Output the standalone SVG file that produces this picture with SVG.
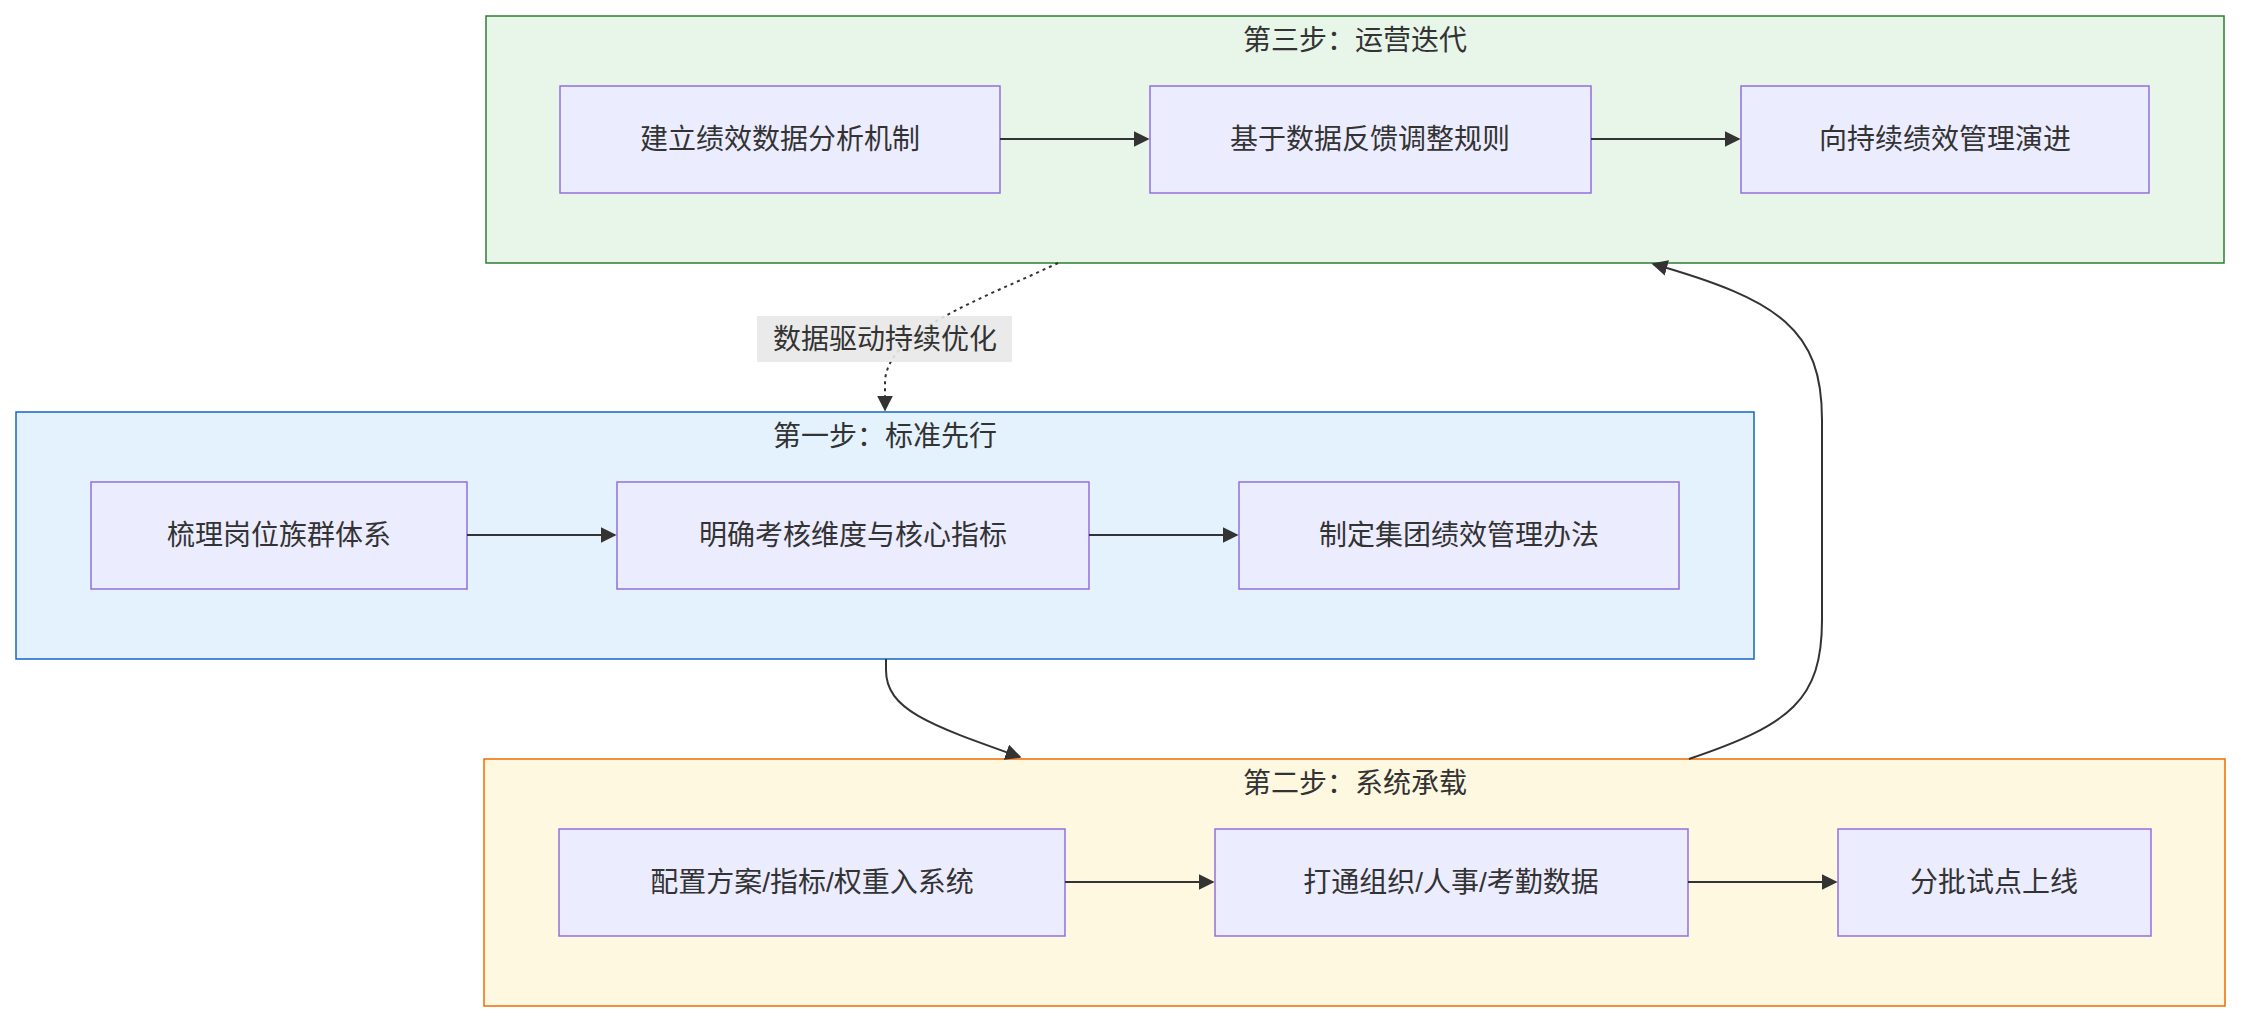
<svg xmlns="http://www.w3.org/2000/svg" width="2241" height="1024" viewBox="0 0 2241 1024">
<style>
text{font-family:"Liberation Sans","Noto Sans CJK SC",sans-serif;font-size:28px;fill:#333;text-anchor:middle;dominant-baseline:central}
.n{fill:#ECECFF;stroke:#9370DB;stroke-width:1.5}
.e{fill:none;stroke:#333;stroke-width:2}
</style>
<defs><marker id="a" viewBox="0 0 10 10" refX="9" refY="5" markerWidth="8" markerHeight="8" orient="auto"><path d="M0,0L10,5L0,10z" fill="#333"/></marker></defs>
<rect width="2241" height="1024" fill="#fff"/>
<g id="g3"><rect x="486" y="16" width="1738" height="247" fill="#E8F5E9" stroke="#2E7D32" stroke-width="1.5"/><text x="1355" y="40">第三步：运营迭代</text></g>
<g id="g1"><rect x="16" y="412" width="1738" height="247" fill="#E3F2FD" stroke="#1565C0" stroke-width="1.5"/><text x="885" y="436">第一步：标准先行</text></g>
<g id="g2"><rect x="484" y="759" width="1741" height="247" fill="#FFF8E1" stroke="#EF6C00" stroke-width="1.5"/><text x="1355" y="783">第二步：系统承载</text></g>
<g id="n31"><rect class="n" x="560" y="86" width="440" height="107"/><text x="780" y="139">建立绩效数据分析机制</text></g>
<g id="n32"><rect class="n" x="1150" y="86" width="441" height="107"/><text x="1370" y="139">基于数据反馈调整规则</text></g>
<g id="n33"><rect class="n" x="1741" y="86" width="408" height="107"/><text x="1945" y="139">向持续绩效管理演进</text></g>
<g id="n11"><rect class="n" x="91" y="482" width="376" height="107"/><text x="279" y="535">梳理岗位族群体系</text></g>
<g id="n12"><rect class="n" x="617" y="482" width="472" height="107"/><text x="853" y="535">明确考核维度与核心指标</text></g>
<g id="n13"><rect class="n" x="1239" y="482" width="440" height="107"/><text x="1459" y="535">制定集团绩效管理办法</text></g>
<g id="n21"><rect class="n" x="559" y="829" width="506" height="107"/><text x="812" y="882">配置方案/指标/权重入系统</text></g>
<g id="n22"><rect class="n" x="1215" y="829" width="473" height="107"/><text x="1451" y="882">打通组织/人事/考勤数据</text></g>
<g id="n23"><rect class="n" x="1838" y="829" width="313" height="107"/><text x="1994" y="882">分批试点上线</text></g>
<g id="edges">
<path class="e" d="M1000,139H1148" marker-end="url(#a)"/>
<path class="e" d="M1591,139H1739" marker-end="url(#a)"/>
<path class="e" d="M467,535H615" marker-end="url(#a)"/>
<path class="e" d="M1089,535H1237" marker-end="url(#a)"/>
<path class="e" d="M1065,882H1213" marker-end="url(#a)"/>
<path class="e" d="M1688,882H1836" marker-end="url(#a)"/>
<path class="e" d="M1058,263C980,300 890,330 885,380L885,410" stroke-dasharray="3,4" marker-end="url(#a)"/>
<path class="e" d="M886,659L886,670C886,710 930,725 1020,757" marker-end="url(#a)"/>
<path class="e" d="M1689,759C1790,725 1822,700 1822,620L1822,420C1822,330 1780,300 1653,264" marker-end="url(#a)"/>
<rect x="757" y="316" width="255" height="46" fill="#e8e8e8" opacity="0.9"/>
<text x="885" y="339">数据驱动持续优化</text>
</g>
</svg>
